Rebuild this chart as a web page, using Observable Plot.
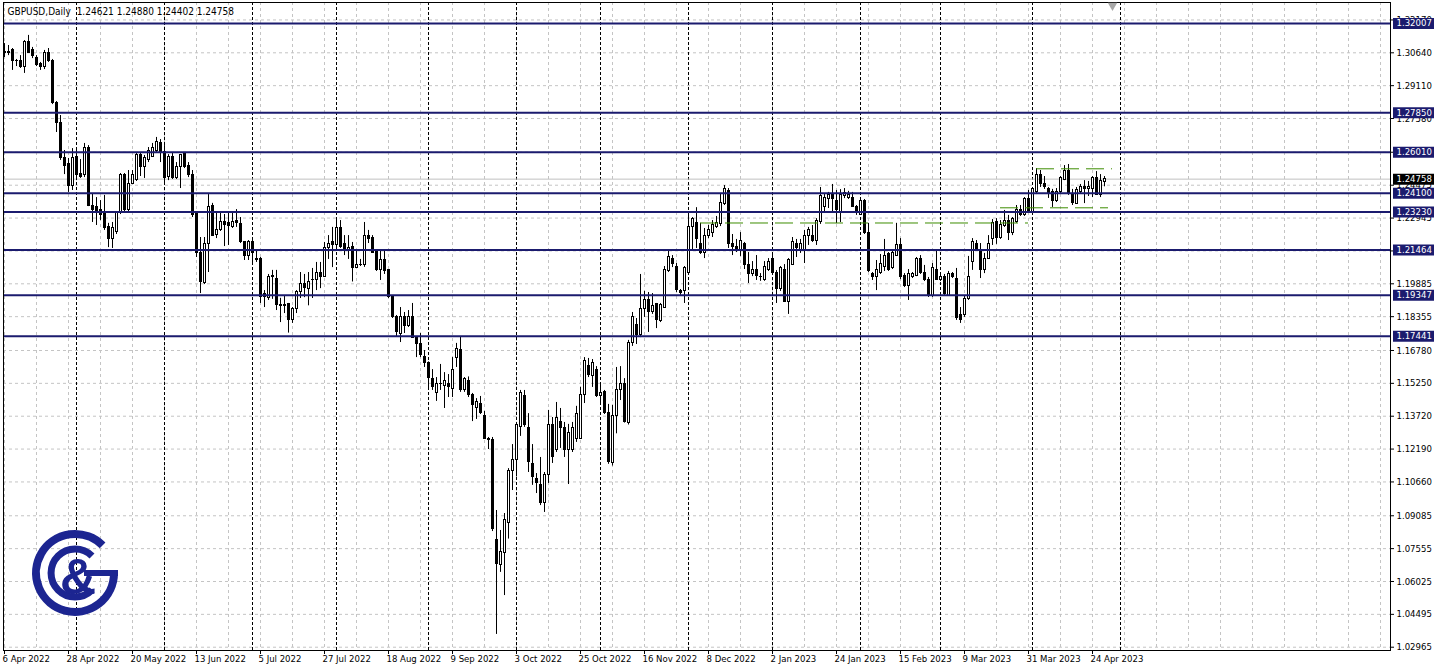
<!DOCTYPE html>
<html><head><meta charset="utf-8">
<script src="https://cdn.jsdelivr.net/npm/d3@7"></script>
<script src="https://cdn.jsdelivr.net/npm/@observablehq/plot@0.6"></script>
<style>
html,body{margin:0;padding:0;background:#fff;}
#wrap{position:relative;width:1438px;height:670px;overflow:hidden;background:#fff;}
#logo{position:absolute;left:0;top:0;pointer-events:none;}
</style></head><body>
<div id="wrap"></div>
<script>
// ---- data (GBPUSD daily, one bar per trading day, bar index 0 = 6 Apr 2022) ----
const symbolName = "GBPUSD,Daily";
const opens = [1.3070,1.3061,1.3075,1.3028,1.3028,1.3000,1.3112,1.3075,1.3042,1.3014,
1.2996,1.3061,1.3028,1.2828,1.2739,1.2572,1.2544,1.2446,1.2581,1.2502,
1.2493,1.2623,1.2353,1.2348,1.2330,1.2316,1.2251,1.2199,1.2232,1.2316,
1.2493,1.2330,1.2455,1.2474,1.2586,1.2530,1.2567,1.2581,1.2605,1.2642,
1.2600,1.2488,1.2581,1.2483,1.2530,1.2591,1.2535,1.2493,1.2316,1.2130,
1.1990,1.2172,1.2353,1.2218,1.2241,1.2274,1.2270,1.2251,1.2279,1.2265,
1.2181,1.2120,1.2181,1.2097,1.2106,1.1939,1.1921,1.2018,1.2013,1.1888,
1.1888,1.1893,1.1822,1.1869,1.1948,1.1988,1.1966,1.2008,1.2004,1.2041,
1.2022,1.2153,1.2181,1.2167,1.2246,1.2172,1.2148,1.2158,1.2064,1.2078,
1.2074,1.2213,1.2204,1.2139,1.2051,1.2097,1.2051,1.1930,1.1832,1.1757,
1.1832,1.1794,1.1832,1.1734,1.1706,1.1650,1.1620,1.1543,1.1478,1.1520,
1.1515,1.1520,1.1501,1.1641,1.1678,1.1492,1.1538,1.1469,1.1412,1.1431,
1.1371,1.1268,1.1259,1.0798,1.0677,1.0733,1.0877,1.1119,1.1166,1.1324,
1.1464,1.1315,1.1148,1.1082,1.1054,1.0966,1.1096,1.1329,1.1217,1.1347,
1.1319,1.1217,1.1217,1.1264,1.1268,1.1469,1.1608,1.1557,1.1585,1.1464,
1.1483,1.1385,1.1152,1.1375,1.1492,1.1520,1.1340,1.1711,1.1799,1.1752,
1.1869,1.1911,1.1855,1.1893,1.1813,1.1878,1.2046,1.2102,1.2069,1.1953,
1.1953,1.2041,1.2251,1.2270,1.2176,1.2130,1.2209,1.2223,1.2251,1.2265,
1.2358,1.2419,1.2176,1.2158,1.2139,1.2172,1.2074,1.2032,1.2055,1.2022,
1.2008,1.2055,1.2102,1.2041,1.1962,1.2055,1.1906,1.2078,1.2176,1.2144,
1.2139,1.2209,1.2213,1.2190,1.2274,1.2344,1.2381,1.2400,1.2376,1.2321,
1.2395,1.2390,1.2390,1.2348,1.2311,1.2376,1.2227,1.2036,1.2018,1.2041,
1.2065,1.2125,1.2060,1.2120,1.2167,1.2027,1.1976,1.2018,1.2027,1.2106,
1.2041,1.2008,1.1930,1.2055,1.2008,1.2022,1.1934,1.2032,1.2013,1.1841,
1.1841,1.1920,1.2092,1.2176,1.2148,1.2051,1.2106,1.2195,1.2274,1.2204,
1.2256,1.2279,1.2223,1.2274,1.2334,1.2307,1.2381,1.2320,1.2414,1.2497,
1.2455,1.2432,1.2414,1.2372,1.2414,1.2474,1.2516,1.2400,1.2362,1.2414,
1.2437,1.2428,1.2428,1.2479,1.2404,1.24621];
const highs = [1.3107,1.3098,1.3084,1.3033,1.3051,1.3121,1.3145,1.3089,1.3051,1.3019,
1.3075,1.3084,1.3033,1.2837,1.2772,1.2609,1.2572,1.2618,1.2609,1.2567,
1.2642,1.2632,1.2409,1.2390,1.2376,1.2400,1.2270,1.2274,1.2320,1.2502,
1.2502,1.2516,1.2516,1.2600,1.2595,1.2586,1.2623,1.2642,1.2670,1.2660,
1.2632,1.2590,1.2595,1.2553,1.2591,1.2595,1.2553,1.2516,1.2320,1.2204,
1.2204,1.2404,1.2363,1.2320,1.2320,1.2311,1.2320,1.2320,1.2334,1.2297,
1.2185,1.2190,1.2190,1.2144,1.2111,1.1957,1.2032,1.2051,1.2051,1.1921,
1.1930,1.1897,1.1878,1.1957,1.2041,1.2032,1.2041,1.2060,1.2088,1.2088,
1.2181,1.2213,1.2251,1.2288,1.2283,1.2213,1.2213,1.2181,1.2144,1.2102,
1.2274,1.2237,1.2213,1.2148,1.2144,1.2144,1.2055,1.1934,1.1841,1.1878,
1.1855,1.1864,1.1897,1.1743,1.1757,1.1678,1.1625,1.1589,1.1552,1.1613,
1.1575,1.1566,1.1645,1.1711,1.1739,1.1552,1.1555,1.1478,1.1454,1.1464,
1.1394,1.1273,1.1273,1.0933,1.0840,1.0919,1.1128,1.1240,1.1343,1.1492,
1.1492,1.1384,1.1240,1.1105,1.1180,1.1110,1.1399,1.1366,1.1436,1.1408,
1.1343,1.1334,1.1343,1.1418,1.1506,1.1645,1.1641,1.1636,1.1603,1.1524,
1.1492,1.1427,1.1422,1.1599,1.1603,1.1547,1.1725,1.1855,1.1827,1.2032,
1.1953,1.1948,1.1943,1.1897,1.1897,1.2069,1.2148,1.2120,1.2083,1.1962,
1.2069,1.2311,1.2297,1.2343,1.2270,1.2246,1.2260,1.2283,1.2302,1.2409,
1.2446,1.2432,1.2218,1.2195,1.2227,1.2181,1.2134,1.2092,1.2120,1.2036,
1.2092,1.2106,1.2120,1.2050,1.2069,1.2078,1.2106,1.2204,1.2195,1.2195,
1.2237,1.2251,1.2260,1.2292,1.2437,1.2404,1.2414,1.2451,1.2423,1.2427,
1.2432,1.2419,1.2414,1.2353,1.2381,1.2381,1.2270,1.2041,1.2097,1.2125,
1.2195,1.2134,1.2148,1.2270,1.2199,1.2036,1.2055,1.2041,1.2111,1.2120,
1.2074,1.2018,1.2083,1.2144,1.2032,1.2032,1.2046,1.2041,1.2060,1.1878,
1.1930,1.2116,1.2199,1.2190,1.2176,1.2130,1.2213,1.2288,1.2292,1.2283,
1.2330,1.2307,1.2297,1.2353,1.2353,1.2390,1.2423,1.2437,1.2525,1.2516,
1.2488,1.2437,1.2428,1.2432,1.2488,1.2539,1.2544,1.2428,1.2437,1.2451,
1.2469,1.2465,1.2488,1.2511,1.2497,1.24880];
const lows = [1.3042,1.3051,1.2982,1.3000,1.2991,1.2968,1.3061,1.3037,1.3000,1.2982,
1.2986,1.3019,1.2823,1.2693,1.2563,1.2497,1.2414,1.2423,1.2469,1.2479,
1.2483,1.2348,1.2274,1.2260,1.2283,1.2237,1.2157,1.2153,1.2218,1.2311,
1.2320,1.2320,1.2451,1.2465,1.2488,1.2479,1.2553,1.2577,1.2600,1.2553,
1.2446,1.2469,1.2474,1.2474,1.2432,1.2525,1.2483,1.2297,1.2111,1.1943,
1.1985,1.2041,1.2209,1.2199,1.2232,1.2162,1.2167,1.2246,1.2251,1.2176,
1.2097,1.2097,1.2083,1.2088,1.1897,1.1878,1.1911,1.1916,1.1864,1.1808,
1.1850,1.1759,1.1804,1.1850,1.1920,1.1924,1.1886,1.1920,1.1957,1.1966,
1.2018,1.2102,1.2064,1.2148,1.2153,1.2120,1.2102,1.1997,1.2060,1.2069,
1.2065,1.2176,1.2130,1.2046,1.2004,1.2032,1.1920,1.1827,1.1743,1.1715,
1.1757,1.1785,1.1734,1.1645,1.1645,1.1599,1.1492,1.1492,1.1441,1.1492,
1.1408,1.1459,1.1459,1.1599,1.1483,1.1483,1.1459,1.1347,1.1357,1.1380,
1.1264,1.1217,1.0835,1.0356,1.0645,1.0537,1.0800,1.1026,1.1090,1.1278,
1.1320,1.1110,1.1050,1.1012,1.0956,1.0924,1.1059,1.1152,1.1203,1.1222,
1.1180,1.1054,1.1203,1.1250,1.1264,1.1431,1.1552,1.1506,1.1459,1.1431,
1.1380,1.1148,1.1140,1.1290,1.1445,1.1340,1.1331,1.1697,1.1706,1.1738,
1.1832,1.1762,1.1846,1.1780,1.1808,1.1874,1.2041,1.2064,1.1948,1.1935,
1.1897,1.2032,1.2148,1.2153,1.2125,1.2106,1.2199,1.2204,1.2246,1.2255,
1.2353,1.2153,1.2120,1.2134,1.2116,1.2055,1.1990,1.2022,1.2004,1.2000,
1.2000,1.2046,1.2032,1.1897,1.1953,1.1902,1.1846,1.2074,1.2111,1.2130,
1.2083,1.2167,1.2181,1.2167,1.2265,1.2316,1.2339,1.2320,1.2269,1.2274,
1.2385,1.2381,1.2344,1.2307,1.2307,1.2218,1.2041,1.2004,1.1957,1.2032,
1.2046,1.2046,1.2055,1.2116,1.2008,1.1971,1.1911,1.2013,1.2022,1.2032,
1.1999,1.1925,1.1925,1.2004,1.1999,1.1934,1.1930,1.2013,1.1818,1.1804,
1.1832,1.1911,1.2051,1.2139,1.2013,1.2036,1.2102,1.2167,1.2172,1.2195,
1.2251,1.2190,1.2213,1.2270,1.2302,1.2302,1.2316,1.2316,1.2404,1.2437,
1.2428,1.2386,1.2344,1.2367,1.2409,1.2469,1.2400,1.2353,1.2358,1.2409,
1.2362,1.2395,1.2390,1.2400,1.2390,1.24402];
const closes = [1.3065,1.3070,1.3028,1.3024,1.2996,1.3112,1.3065,1.3051,1.3005,1.2996,
1.3061,1.3024,1.2828,1.2735,1.2572,1.2539,1.2446,1.2572,1.2493,1.2488,
1.2623,1.2353,1.2330,1.2320,1.2307,1.2246,1.2199,1.2246,1.2316,1.2493,
1.2330,1.2455,1.2493,1.2586,1.2530,1.2572,1.2605,1.2623,1.2651,1.2600,
1.2483,1.2581,1.2483,1.2530,1.2586,1.2530,1.2493,1.2307,1.2130,1.1995,
1.2172,1.2348,1.2213,1.2241,1.2274,1.2260,1.2256,1.2274,1.2270,1.2181,
1.2116,1.2181,1.2130,1.2106,1.1925,1.1925,1.2018,1.2027,1.1888,1.1886,
1.1885,1.1822,1.1869,1.1948,1.1988,1.1969,1.1997,1.2006,1.2041,1.2022,
1.2153,1.2172,1.2167,1.2246,1.2162,1.2148,1.2153,1.2064,1.2078,1.2074,
1.2213,1.2199,1.2134,1.2051,1.2097,1.2046,1.1925,1.1832,1.1762,1.1832,
1.1794,1.1832,1.1738,1.1706,1.1655,1.1622,1.1548,1.1506,1.1524,1.1522,
1.1538,1.1506,1.1589,1.1687,1.1492,1.1543,1.1469,1.1422,1.1436,1.1389,
1.1268,1.1259,1.0845,1.0686,1.0738,1.0891,1.1119,1.1166,1.1329,1.1478,
1.1329,1.1157,1.1087,1.1059,1.0966,1.1096,1.1329,1.1180,1.1362,1.1319,
1.1217,1.1296,1.1315,1.1380,1.1473,1.1631,1.1562,1.1622,1.1464,1.1478,
1.1385,1.1157,1.1375,1.1492,1.1524,1.1345,1.1711,1.1836,1.1752,1.1869,
1.1915,1.1855,1.1883,1.1822,1.1888,1.2055,1.2111,1.2083,1.1960,1.1944,
1.2060,1.2251,1.2288,1.2195,1.2130,1.2213,1.2237,1.2260,1.2270,1.2363,
1.2428,1.2176,1.2158,1.2139,1.2186,1.2078,1.2036,1.2051,1.2027,1.2018,
1.2065,1.2092,1.2041,1.1962,1.2060,1.1906,1.2097,1.2181,1.2153,1.2176,
1.2213,1.2237,1.2190,1.2283,1.2395,1.2390,1.2400,1.2381,1.2334,1.2400,
1.2409,1.2404,1.2348,1.2320,1.2372,1.2223,1.2046,1.2018,1.2051,1.2083,
1.2120,1.2051,1.2130,1.2167,1.2018,1.1976,1.2032,1.2032,1.2106,1.2041,
1.2004,1.1930,1.2060,1.2008,1.2022,1.1939,1.2036,1.2018,1.1827,1.1822,
1.1920,1.2022,1.2181,1.2144,1.2051,1.2106,1.2176,1.2270,1.2204,1.2260,
1.2279,1.2223,1.2288,1.2334,1.2307,1.2381,1.2320,1.2428,1.2497,1.2455,
1.2437,1.2409,1.2372,1.2414,1.2479,1.2516,1.2409,1.2367,1.2423,1.2437,
1.2428,1.2437,1.2479,1.2404,1.2465,1.24758];

// date labels on the time axis (every 16 bars)
const labelBars = [0,16,32,48,64,80,96,112,128,144,160,176,192,208,224,240,256,272];
const dateLabels = ["6 Apr 2022","28 Apr 2022","20 May 2022","13 Jun 2022","5 Jul 2022","27 Jul 2022",
  "18 Aug 2022","9 Sep 2022","3 Oct 2022","25 Oct 2022","16 Nov 2022","8 Dec 2022",
  "2 Jan 2023","24 Jan 2023","15 Feb 2023","9 Mar 2023","31 Mar 2023","24 Apr 2023"];
// first bar of each month (period separators)
const monthStartBars = [18,40,62,83,106,128,149,171,192,214,234,257,279];
// price-axis tick values
const priceTicks = [1.02965,1.04495,1.06025,1.07555,1.09085,1.10660,1.12190,1.13720,1.15250,1.16780,
  1.18355,1.19885,1.21415,1.22945,1.24475,1.26010,1.27580,1.29110,1.30640,1.32170];
// horizontal support / resistance levels
const levels = [1.32007,1.27850,1.26010,1.24100,1.23230,1.21464,1.19347,1.17441];
const currentPrice = 1.24758;
// green dashed range lines
const greenPrices = [1.22716,1.23423,1.25239];
const greenFrom = [174,249,258];
const greenTo = [256,276,277];
const shiftMarkerBar = [277];

// ---- build tables ----
const candles = opens.map((o,i)=>({i, open:o, high:highs[i], low:lows[i], close:closes[i]}));
const greens = greenPrices.map((p,k)=>({price:p, from:greenFrom[k], to:greenTo[k]}));
const dateRows = labelBars.map((b,k)=>({bar:b, label:dateLabels[k]}));
const gridBars = d3.range(0, 347, 8);
const fmt = d3.format(".5f");
const header = symbolName + "\u00a0\u00a0" + [opens[opens.length-1], highs[highs.length-1], lows[lows.length-1], closes[closes.length-1]].map(fmt).join(" ");

const navy = "#1b1b6e";
const font = "Tahoma, 'DejaVu Sans Condensed', 'DejaVu Sans', sans-serif";

const chart = Plot.plot({
  width:1438, height:670,
  marginLeft:3, marginRight:48, marginTop:2, marginBottom:20,
  style:{fontFamily:font, fontSize:"9.5px", background:"#fff", color:"#000"},
  x:{type:"linear", domain:[-0.25, 346.5], axis:null},
  y:{type:"linear", domain:[1.02812, 1.32982], axis:null},
  color:{type:"identity"},
  marks:[
    Plot.ruleY(priceTicks, {stroke:"#c4c4c4", strokeDasharray:"3,3"}),
    Plot.ruleX(gridBars, {stroke:"#c4c4c4", strokeDasharray:"3,3"}),
    Plot.ruleX(monthStartBars, {stroke:"#000", strokeDasharray:"3,2"}),
    Plot.ruleY([currentPrice], {stroke:"#c0c0c0"}),
    Plot.ruleX(candles, {x:"i", y1:"low", y2:"high", stroke:"#000"}),
    // bodies: 3-pixel wide, aligned on the wick's pixel column
    Plot.rect(candles, {x1:d=>d.i-0.125, x2:d=>d.i+0.375, y1:"open", y2:"close",
      fill:d=>d.close>=d.open?"#fff":"#000", stroke:"#000", shapeRendering:"crispEdges"}),
    Plot.ruleY(levels, {stroke:navy, strokeWidth:2}),
    Plot.ruleY(greens, {y:"price", x1:"from", x2:"to", stroke:"#3d8c00", strokeDasharray:"18,7"}),
    Plot.frame({stroke:"#000"}),
    // price axis (right)
    Plot.tickY(priceTicks, {stroke:"#000", insetLeft:1387, insetRight:-4}),
    Plot.text(priceTicks, {y:d=>d, text:d=>fmt(d), frameAnchor:"right", textAnchor:"start", dx:6, fill:"#000"}),
    // level labels
    Plot.tickY(levels, {stroke:navy, strokeWidth:11, insetLeft:1390, insetRight:-44}),
    Plot.text(levels, {y:d=>d, text:d=>fmt(d), frameAnchor:"right", textAnchor:"start", dx:6, fill:"#fff"}),
    Plot.tickY([currentPrice], {stroke:"#000", strokeWidth:11, insetLeft:1390, insetRight:-44}),
    Plot.text([currentPrice], {y:d=>d, text:d=>fmt(d), frameAnchor:"right", textAnchor:"start", dx:6, fill:"#fff"}),
    // time axis (bottom)
    Plot.tickX(labelBars, {stroke:"#000", insetTop:648, insetBottom:-4}),
    Plot.text(dateRows, {x:"bar", text:"label", frameAnchor:"bottom", textAnchor:"start", lineAnchor:"top", dy:5, dx:-2, fill:"#000"}),
    // header
    Plot.text([header], {frameAnchor:"top-left", textAnchor:"start", lineAnchor:"top", dx:4, dy:5, fill:"#000", fontSize:10}),
    // chart shift marker
    Plot.dot(shiftMarkerBar, {x:d=>d, frameAnchor:"top", symbol:"triangle", r:3.5, rotate:180, dy:3, fill:"#a8a8a8", stroke:null})
  ]
});

const wrap = document.getElementById("wrap");
wrap.appendChild(chart);

// logo overlay
const ns = "http://www.w3.org/2000/svg";
const logo = document.createElementNS(ns, "svg");
logo.setAttribute("id","logo");
logo.setAttribute("width","1438");
logo.setAttribute("height","670");
logo.innerHTML = `
<g fill="none" stroke="#1c2591">
  <path d="M102.6,545.4 A39,39 0 1 0 114,573" stroke-width="8"/>
  <line x1="84" y1="573" x2="118" y2="573" stroke-width="6"/>
  <path d="M92,556 A24,24 0 1 0 92,590" stroke-width="7"/>
</g>
<text x="78" y="594" text-anchor="middle" font-family="'Liberation Sans', Arial, sans-serif" font-weight="bold" font-size="50" fill="#1c2591">&amp;</text>`;
wrap.appendChild(logo);
</script>
</body></html>
